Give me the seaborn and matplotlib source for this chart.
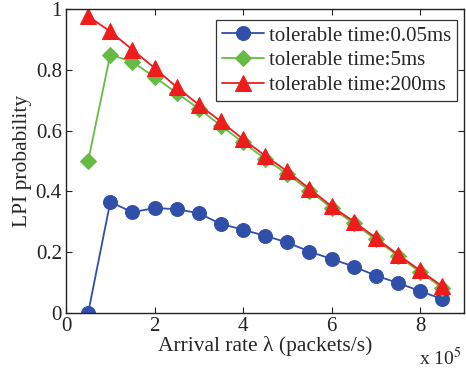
import numpy as np
import pandas as pd
import matplotlib
matplotlib.use("Agg")
import matplotlib.pyplot as plt
import seaborn as sns

# arrival rate in units of 1e5 packets/s
arrival_rate = [0.5, 1, 1.5, 2, 2.5, 3, 3.5, 4, 4.5, 5, 5.5, 6, 6.5, 7, 7.5, 8, 8.5]
lpi_005ms = [0.0, 0.365, 0.332, 0.345, 0.342, 0.328, 0.293, 0.274, 0.254, 0.232,
             0.202, 0.178, 0.153, 0.123, 0.099, 0.072, 0.046]
lpi_5ms = [0.5, 0.85, 0.826, 0.776, 0.724, 0.672, 0.616, 0.561, 0.507, 0.457,
           0.403, 0.345, 0.295, 0.242, 0.188, 0.135, 0.083]
lpi_200ms = [0.976, 0.926, 0.866, 0.806, 0.743, 0.685, 0.63, 0.572, 0.517, 0.466,
             0.409, 0.351, 0.301, 0.247, 0.192, 0.14, 0.088]
series_names = ["tolerable time:0.05ms", "tolerable time:5ms", "tolerable time:200ms"]

df = pd.DataFrame({
    "rate": arrival_rate * 3,
    "prob": lpi_005ms + lpi_5ms + lpi_200ms,
    "series": np.repeat(series_names, len(arrival_rate)),
})

sns.set_style("ticks")
plt.rcParams["font.family"] = ["Liberation Serif", "DejaVu Serif"]
plt.rcParams["mathtext.fontset"] = "stix"
plt.rcParams["xtick.direction"] = "in"
plt.rcParams["ytick.direction"] = "in"

fig = plt.figure(figsize=(4.66, 3.74), dpi=100)
ax = fig.add_axes([0.1416, 0.163, 0.855, 0.813])

palette = {series_names[0]: "#2f4fa8", series_names[1]: "#66bb44", series_names[2]: "#ee1c1c"}
markers = {series_names[0]: "o", series_names[1]: "D", series_names[2]: "^"}
sizes = {series_names[0]: 10, series_names[1]: 8.5, series_names[2]: 11}

for name in series_names:
    sub = df[df["series"] == name]
    sns.lineplot(data=sub, x="rate", y="prob", ax=ax, color=palette[name],
                 marker=markers[name], markersize=sizes[name], markeredgecolor=palette[name],
                 linewidth=1.3, label=name)

ax.set_xlim(0, 9)
ax.set_ylim(0, 1)
ax.set_xticks([0, 2, 4, 6, 8])
ax.set_yticks([0, 0.2, 0.4, 0.6, 0.8, 1])
ax.set_yticklabels(["0", "0.2", "0.4", "0.6", "0.8", "1"])
ax.tick_params(labelsize=15, top=True, right=True, length=4, width=0.8, colors="#222222")
ax.tick_params(axis="x", pad=3)
ax.tick_params(axis="y", pad=3)
for s in ax.spines.values():
    s.set_linewidth(1.0)
    s.set_color("#222222")
ax.set_xlabel("Arrival rate λ (packets/s)", fontsize=15.5, labelpad=0)
ax.set_ylabel("LPI probability", fontsize=15.5, labelpad=3)
fig.text(419 / 466, 1 - 358 / 374, r"x 10$^5$", fontsize=14, va="center", ha="left")

leg = ax.legend(loc="upper right", bbox_to_anchor=(0.998, 0.985), fontsize=15,
                frameon=True, fancybox=False, handlelength=2.0, borderpad=0.3,
                labelspacing=0.25, handletextpad=0.25, borderaxespad=0.3)
leg.get_frame().set_edgecolor("black")
leg.get_frame().set_linewidth(0.9)

fig.savefig("out.png", dpi=100)
